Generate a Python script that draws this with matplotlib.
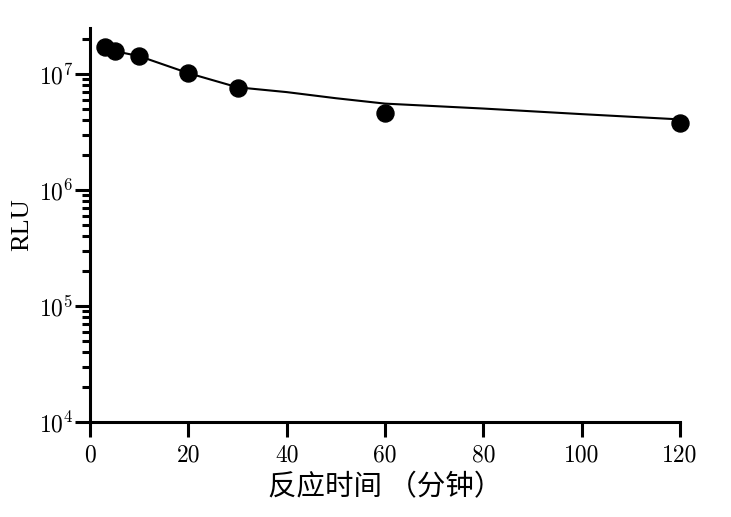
import matplotlib
matplotlib.use("Agg")
import matplotlib.pyplot as plt
import matplotlib.ticker as mticker
import numpy as np

# Data
time_min = [3, 5, 10, 20, 30, 60, 120]
rlu = [1.71e7, 1.58e7, 1.43e7, 1.02e7, 7.57e6, 4.61e6, 3.78e6]
fit_x = [3, 5, 10, 20, 30, 40, 50, 60, 80, 100, 120]
fit_y = [1.71e7, 1.58e7, 1.43e7, 1.02e7, 7.7e6, 7.0e6, 6.2e6, 5.57e6, 5.05e6, 4.52e6, 4.07e6]
x_ticks = [0, 20, 40, 60, 80, 100, 120]
xlabel = "反应时间 （分钟）"
ylabel = "RLU"

plt.rcParams['mathtext.fontset'] = 'cm'
plt.rcParams['font.family'] = ['serif']
plt.rcParams['font.serif'] = ['cmr10', 'DejaVu Serif']
plt.rcParams['axes.formatter.use_mathtext'] = True

fig = plt.figure(figsize=(7.31, 5.17), dpi=100)
ax = fig.add_axes([90/731, 1-422/517, (680-90)/731, (422-28)/517])

ax.plot(fit_x, fit_y, color='black', lw=1.5, zorder=2)
ax.scatter(time_min, rlu, s=150, color='black', zorder=3, clip_on=False)

ax.set_yscale('log')
ax.set_ylim(1e4, 2.5e7)
ax.set_xlim(0, 120)
ax.set_xticks(x_ticks)
ax.set_xticklabels([str(v) for v in x_ticks])
ax.yaxis.set_major_locator(mticker.LogLocator(base=10, numticks=10))
ax.yaxis.set_minor_locator(mticker.LogLocator(base=10, subs=np.arange(2, 10), numticks=20))
ax.yaxis.set_major_formatter(mticker.LogFormatterMathtext())
ax.yaxis.set_minor_formatter(mticker.NullFormatter())

for s in ['top', 'right']:
    ax.spines[s].set_visible(False)
for s in ['left', 'bottom']:
    ax.spines[s].set_linewidth(2.2)

ax.tick_params(axis='both', which='major', length=11, width=2.2, labelsize=17, direction='out', colors='black')
ax.tick_params(axis='y', which='minor', length=6, width=2.2, direction='out')
ax.tick_params(axis='y', which='major', pad=1)
ax.tick_params(axis='x', which='major', pad=5)

ax.set_ylabel(ylabel, fontsize=19, labelpad=4, family=['Liberation Serif'])
ax.set_xlabel(xlabel, fontsize=20.5, labelpad=4, family=['Noto Sans CJK SC', 'DejaVu Sans'])

fig.savefig("out.png", dpi=100)
